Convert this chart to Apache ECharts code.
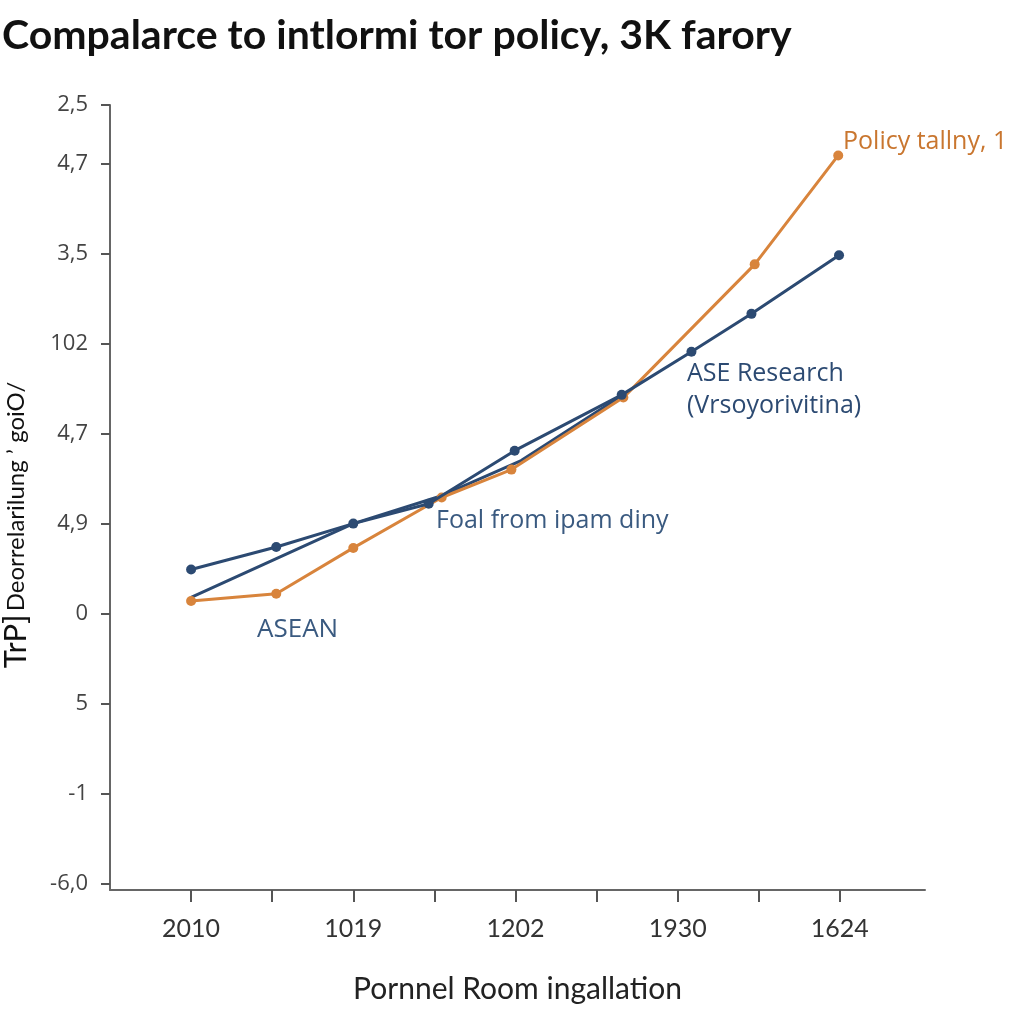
<!DOCTYPE html>
<html>
<head>
<meta charset="utf-8">
<script src="https://cdn.jsdelivr.net/npm/echarts@6/dist/echarts.min.js"></script>
<style>html,body{margin:0;padding:0;background:#fff;}#c{width:1024px;height:1024px;}</style>
</head>
<body>
<div id="c"></div>
<script>
// ---- data ----
var xTickValues = [0, 1, 2, 3, 4, 5, 6, 7, 8];
var xLabelValues = [0, 2, 4, 6, 8];
var xLabels = ['2010', '1019', '1202', '1930', '1624'];
var yTickValues = [0, 1, 2, 3, 4, 5, 6, 7, 8, 8.65];
var yLabels = ['-6,0', '-1', '5', '0', '4,9', '4,7', '102', '3,5', '4,7', '2,5'];

var aseResearch = [[0, 3.49], [1.05, 3.74], [2.0, 4.0], [2.93, 4.22], [3.99, 4.81], [5.31, 5.43], [6.17, 5.91], [6.91, 6.33], [7.99, 6.98]];
var policy = [[0, 3.14], [1.05, 3.22], [2.0, 3.73], [3.09, 4.29], [3.95, 4.60], [5.33, 5.40], [6.95, 6.88], [7.98, 8.09]];
var asean = [[0, 3.18], [2.0, 4.0], [3.09, 4.31], [4.07, 4.70], [5.31, 5.42]];

var titleText = 'Compalarce to intlormi tor policy, 3K farory';
var xName = 'Pornnel Room ingallation';

var blue = '#2c4a72';
var orange = '#d8843c';

var chart = echarts.init(document.getElementById('c'));
chart.setOption({
  backgroundColor: '#ffffff',
  animation: false,
  title: {
    text: titleText, left: -3, top: 10,
    textStyle: { fontFamily: 'Lato', fontWeight: 'bold', fontSize: 41, color: '#111' }
  },
  grid: { left: 110, right: 99, top: 105, bottom: 134 },
  xAxis: {
    type: 'value', min: -1, max: 9.05,
    name: xName, nameLocation: 'middle', nameGap: 84,
    nameTextStyle: { fontFamily: 'Lato', fontSize: 30, color: '#222' },
    axisLine: { show: true, onZero: false, lineStyle: { color: '#666', width: 2 } },
    axisTick: { show: true, customValues: xTickValues, length: 12, lineStyle: { color: '#555', width: 2 } },
    axisLabel: {
      customValues: xLabelValues, margin: 26, fontFamily: 'Lato', fontSize: 25, color: '#333',
      formatter: function (v) { var i = xLabelValues.indexOf(v); return i >= 0 ? xLabels[i] : ''; }
    },
    splitLine: { show: false }
  },
  yAxis: {
    type: 'value', min: -0.07, max: 8.65,
    axisLine: { show: true, onZero: false, lineStyle: { color: '#666', width: 2 } },
    axisTick: { show: true, customValues: yTickValues, length: 9, lineStyle: { color: '#555', width: 2 } },
    axisLabel: {
      customValues: yTickValues, margin: 22, fontFamily: 'Open Sans', fontSize: 22, color: '#444',
      formatter: function (v) { var i = yTickValues.indexOf(v); return i >= 0 ? yLabels[i] : ''; }
    },
    splitLine: { show: false }
  },
  series: [
    {
      name: 'ASEAN', type: 'line', data: asean, showSymbol: false, symbol: 'none',
      lineStyle: { color: blue, width: 3 }, z: 2
    },
    {
      name: 'Policy tallny, 1', type: 'line', data: policy, symbol: 'circle', symbolSize: 10,
      itemStyle: { color: orange }, lineStyle: { color: orange, width: 3 }, z: 3
    },
    {
      name: 'ASE Research', type: 'line', data: aseResearch, symbol: 'circle', symbolSize: 10,
      itemStyle: { color: blue }, lineStyle: { color: blue, width: 3 }, z: 4
    }
  ],
  graphic: [
    { type: 'text', left: 843, top: 129, style: { text: 'Policy tallny, 1', fill: '#c9762f', font: '25px "Open Sans"' } },
    { type: 'text', left: 687, top: 358, style: { text: 'ASE Research\n(Vrsoyorivitina)', fill: blue, font: '25px "Open Sans"', lineHeight: 32 } },
    { type: 'text', left: 436, top: 508, style: { text: 'Foal from ipam diny', fill: '#3a5a80', font: '25px "Open Sans"' } },
    { type: 'text', left: 257, top: 617, style: { text: 'ASEAN', fill: '#3a5a80', font: '26px "Open Sans"' } },
    {
      type: 'text', x: 16, y: 525, rotation: Math.PI / 2,
      style: {
        text: '{a|TrP]} {b|Deorrelarilung \u2019 goiO/}', align: 'center', verticalAlign: 'middle',
        rich: {
          a: { fontFamily: 'Lato', fontSize: 31, fill: '#111' },
          b: { fontFamily: 'Lato', fontSize: 24, fill: '#111' }
        }
      }
    }
  ]
});
</script>
</body>
</html>
